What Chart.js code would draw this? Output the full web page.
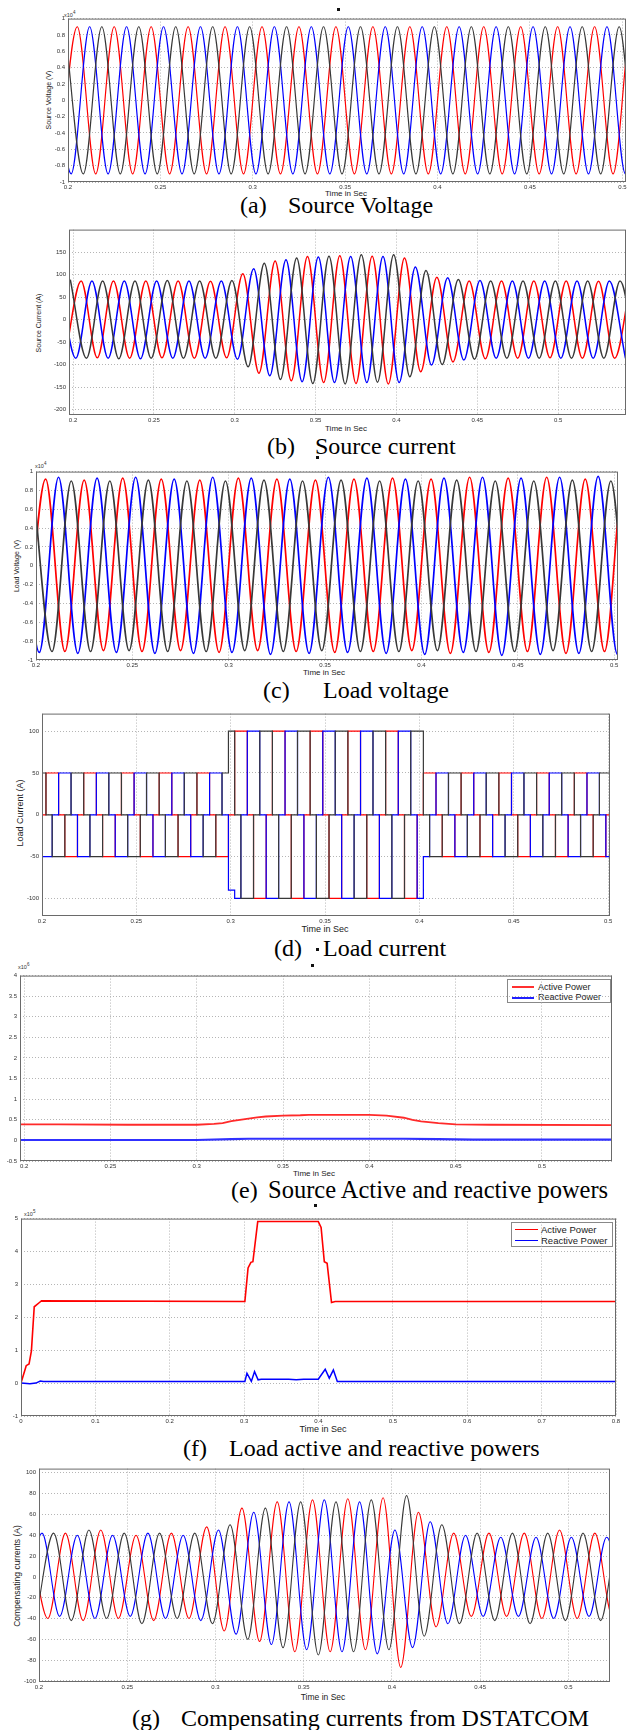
<!DOCTYPE html>
<html>
<head>
<meta charset="utf-8">
<script src="https://cdn.jsdelivr.net/npm/chart.js@4.4.0/dist/chart.umd.min.js"></script>
<style>
  body { margin: 0; background: #fff; width: 629px; height: 1730px; position: relative; overflow: hidden;
         font-family: 'Liberation Sans', Arial, sans-serif; }
  canvas { position: absolute; left: 0; }
  .xt { position: absolute; white-space: nowrap; color: #222; font-size: 8px; transform: translate(-50%, -50%); }
  .yt { position: absolute; white-space: nowrap; color: #222; font-size: 7px; transform: translate(-50%, -50%) rotate(-90deg); }
  .ex { position: absolute; white-space: nowrap; color: #333; font-size: 5.5px; }
  .ex sup { font-size: 4.5px; }
  .cap { position: absolute; white-space: nowrap; font-family: 'Liberation Serif', 'Times New Roman', serif;
         font-size: 24px; line-height: 24px; color: #000; }
  .lg { position: absolute; background: #fff; border: 1px solid #888; }
  .lg div { position: absolute; white-space: nowrap; line-height: 10px; color: #222; }
  .lg span { position: absolute; height: 0; }
  .mk { position: absolute; width: 3px; height: 3px; background: #111; }
</style>
</head>
<body>

<!-- captions -->
<div class="cap" style="left:240px;top:193px">(a)</div><div class="cap" style="left:288px;top:193px">Source Voltage</div>
<div class="cap" style="left:267px;top:434px">(b)</div><div class="cap" style="left:315px;top:434px">Source current</div>
<div class="cap" style="left:263px;top:678px">(c)</div><div class="cap" style="left:323px;top:678px">Load voltage</div>
<div class="cap" style="left:274px;top:936px">(d)</div><div class="cap" style="left:323px;top:936px">Load current</div>
<div class="cap" style="left:231px;top:1178px">(e)</div><div class="cap" style="left:268px;top:1178px;font-size:24.5px">Source Active and reactive powers</div>
<div class="cap" style="left:183px;top:1436px">(f)</div><div class="cap" style="left:229px;top:1436px">Load active and reactive powers</div>
<div class="cap" style="left:132px;top:1706px">(g)</div><div class="cap" style="left:181px;top:1706px">Compensating currents from DSTATCOM</div>

<!-- axis titles -->
<div class="yt" style="left:48px;top:100px">Source Voltage (V)</div>
<div class="xt" style="left:346px;top:193px">Time in Sec</div>
<div class="yt" style="left:38px;top:323px">Source Current (A)</div>
<div class="xt" style="left:346px;top:428px">Time in Sec</div>
<div class="yt" style="left:16px;top:566px">Load Voltage (V)</div>
<div class="xt" style="left:324px;top:672px">Time in Sec</div>
<div class="yt" style="left:20px;top:813px;font-size:9px">Load Current (A)</div>
<div class="xt" style="left:325px;top:929px;font-size:9px">Time in Sec</div>
<div class="xt" style="left:314px;top:1173px">Time in Sec</div>
<div class="xt" style="left:323px;top:1429px;font-size:9px">Time in Sec</div>
<div class="yt" style="left:17px;top:1576px;font-size:8.5px">Compensating currents (A)</div>
<div class="xt" style="left:323px;top:1697px;font-size:8.5px">Time in Sec</div>

<!-- exponents -->
<div class="ex" style="left:64px;top:10px">x10<sup>4</sup></div>
<div class="ex" style="left:35px;top:461px">x10<sup>4</sup></div>
<div class="ex" style="left:18px;top:962px">x10<sup>6</sup></div>
<div class="ex" style="left:24px;top:1209px">x10<sup>5</sup></div>

<!-- legends -->
<div class="lg" style="left:507px;top:979px;width:102px;height:22px">
  <span style="left:4px;top:6px;width:22px;border-top:2px solid #ff3030"></span><div style="left:30px;top:2px;font-size:9px">Active Power</div>
  <span style="left:4px;top:17px;width:22px;border-top:2px solid #2020ff"></span><div style="left:30px;top:12px;font-size:9px">Reactive Power</div>
</div>
<div class="lg" style="left:511px;top:1222px;width:100px;height:23px">
  <span style="left:3px;top:6px;width:23px;border-top:1.5px solid #ff0000"></span><div style="left:29px;top:2px;font-size:9.5px">Active Power</div>
  <span style="left:3px;top:17px;width:23px;border-top:1.5px solid #0000ff"></span><div style="left:29px;top:13px;font-size:9.5px">Reactive Power</div>
</div>

<!-- stray marks from the scanned figure -->
<div class="mk" style="left:337px;top:8px"></div>
<div class="mk" style="left:316px;top:456px"></div>
<div class="mk" style="left:316px;top:948px"></div>
<div class="mk" style="left:311px;top:964px"></div>
<div class="mk" style="left:314px;top:1204px"></div>

<script>
// times of the half-cycle extremes of each phase (50 Hz)
const tRed   = [0.195,0.205,0.215,0.225,0.235,0.245,0.255,0.265,0.275,0.285,0.295,0.305,0.315,0.325,0.335,0.345,0.355,0.365,0.375,0.385,0.395,0.405,0.415,0.425,0.435,0.445,0.455,0.465,0.475,0.485,0.495,0.505,0.515,0.525,0.535,0.545];
const tBlue  = [0.1917,0.2017,0.2117,0.2217,0.2317,0.2417,0.2517,0.2617,0.2717,0.2817,0.2917,0.3017,0.3117,0.3217,0.3317,0.3417,0.3517,0.3617,0.3717,0.3817,0.3917,0.4017,0.4117,0.4217,0.4317,0.4417,0.4517,0.4617,0.4717,0.4817,0.4917,0.5017,0.5117,0.5217,0.5317,0.5417];
const tBlack = [0.1983,0.2083,0.2183,0.2283,0.2383,0.2483,0.2583,0.2683,0.2783,0.2883,0.2983,0.3083,0.3183,0.3283,0.3383,0.3483,0.3583,0.3683,0.3783,0.3883,0.3983,0.4083,0.4183,0.4283,0.4383,0.4483,0.4583,0.4683,0.4783,0.4883,0.4983,0.5083,0.5183,0.5283,0.5383,0.5483];

// (a) source voltage, x10^4 V, value at each extreme
const aRed   = [-0.9,0.9,-0.9,0.9,-0.9,0.9,-0.9,0.9,-0.9,0.9,-0.9,0.9,-0.9,0.9,-0.9,0.9,-0.9,0.9,-0.9,0.9,-0.9,0.9,-0.9,0.9,-0.9,0.9,-0.9,0.9,-0.9,0.9,-0.9,0.9,-0.9];
const aBlue  = [0.9,-0.9,0.9,-0.9,0.9,-0.9,0.9,-0.9,0.9,-0.9,0.9,-0.9,0.9,-0.9,0.9,-0.9,0.9,-0.9,0.9,-0.9,0.9,-0.9,0.9,-0.9,0.9,-0.9,0.9,-0.9,0.9,-0.9,0.9,-0.9,0.9];
const aBlack = [0.9,-0.9,0.9,-0.9,0.9,-0.9,0.9,-0.9,0.9,-0.9,0.9,-0.9,0.9,-0.9,0.9,-0.9,0.9,-0.9,0.9,-0.9,0.9,-0.9,0.9,-0.9,0.9,-0.9,0.9,-0.9,0.9,-0.9,0.9,-0.9,0.9];

// (b) source current, A
const bRed   = [-85,86,-85,86,-86,86,-85,86,-86,85,-85,102,-119,130,-136,140,-140,142,-142,141,-143,137,-116,94,-94,86,-87,86,-86,86,-85,86,-86,85,-86,86];
const bBlue  = [86,-86,86,-86,86,-87,86,-86,86,-86,86,-88,113,-125,133,-138,139,-140,140,-140,140,-140,117,-101,93,-90,87,-86,86,-86,86,-86,86,-86,86,-86];
const bBlack = [89,-86,86,-87,86,-86,87,-86,86,-86,87,-105,125,-133,137,-142,141,-143,144,-139,144,-127,109,-100,89,-88,86,-86,86,-86,86,-86,86,-86,86,-86];

// (c) load voltage, x10^4 V
const cRed   = [-0.9,0.92,-0.91,0.91,-0.9,0.93,-0.91,0.92,-0.9,0.91,-0.92,0.93,-0.9,0.92,-0.91,0.91,-0.92,0.92,-0.91,0.93,-0.9,0.92,-0.93,0.94,-0.92,0.93,-0.91,0.94,-0.93,0.92,-0.91,0.93,-0.92];
const cBlue  = [0.93,-0.92,0.94,-0.93,0.93,-0.92,0.94,-0.93,0.92,-0.93,0.94,-0.92,0.93,-0.94,0.92,-0.93,0.94,-0.92,0.93,-0.93,0.92,-0.94,0.93,-0.92,0.94,-0.95,0.93,-0.94,0.94,-0.93,0.95,-0.94,0.93];
const cBlack = [0.9,-0.91,0.9,-0.91,0.9,-0.9,0.91,-0.91,0.9,-0.91,0.9,-0.9,0.91,-0.91,0.9,-0.9,0.91,-0.91,0.9,-0.91,0.9,-0.9,0.91,-0.91,0.9,-0.91,0.9,-0.9,0.91,-0.91,0.9,-0.9,0.91];

// (d) load current: commutation instants and the level held in each interval, A
const dEdges = [0.1988,0.2021,0.2054,0.2088,0.2121,0.2154,0.2188,0.2221,0.2254,0.2288,0.2321,0.2354,0.2388,0.2421,0.2454,0.2488,0.2521,0.2554,0.2588,0.2621,0.2654,0.2688,0.2721,0.2754,0.2788,0.2821,0.2854,0.2888,0.2921,0.2954,0.2988,0.3021,0.3054,0.3088,0.3121,0.3154,0.3188,0.3221,0.3254,0.3288,0.3321,0.3354,0.3388,0.3421,0.3454,0.3488,0.3521,0.3554,0.3588,0.3621,0.3654,0.3688,0.3721,0.3754,0.3788,0.3821,0.3854,0.3888,0.3921,0.3954,0.3988,0.4021,0.4054,0.4088,0.4121,0.4154,0.4188,0.4221,0.4254,0.4288,0.4321,0.4354,0.4388,0.4421,0.4454,0.4488,0.4521,0.4554,0.4588,0.4621,0.4654,0.4688,0.4721,0.4754,0.4788,0.4821,0.4854,0.4888,0.4921,0.4954,0.4988,0.5021];
const dRed   = [0,50,50,0,-50,-50, 0,50,50,0,-50,-50, 0,50,50,0,-50,-50, 0,50,50,0,-50,-50, 0,50,50,0,-50,-50,
                0,100,100,0,-100,-100, 0,100,100,0,-100,-100, 0,100,100,0,-100,-100, 0,100,100,0,-100,-100, 0,100,100,0,-100,-100,
                0,50,50,0,-50,-50, 0,50,50,0,-50,-50, 0,50,50,0,-50,-50, 0,50,50,0,-50,-50, 0,50,50,0,-50,-50, 0];
const dBlue  = [-50,-50,0,50,50,0, -50,-50,0,50,50,0, -50,-50,0,50,50,0, -50,-50,0,50,50,0, -50,-50,0,50,50,0,
                -90,-100,0,100,100,0, -100,-100,0,100,100,0, -100,-100,0,100,100,0, -100,-100,0,100,100,0, -100,-100,0,100,100,0,
                -100,-50,0,50,50,0, -50,-50,0,50,50,0, -50,-50,0,50,50,0, -50,-50,0,50,50,0, -50,-50,0,50,50,0, -50];
const dBlack = [50,0,-50,-50,0,50, 50,0,-50,-50,0,50, 50,0,-50,-50,0,50, 50,0,-50,-50,0,50, 50,0,-50,-50,0,50,
                100,0,-100,-100,0,100, 100,0,-100,-100,0,100, 100,0,-100,-100,0,100, 100,0,-100,-100,0,100, 100,0,-100,-100,0,100,
                100,0,-50,-50,0,50, 50,0,-50,-50,0,50, 50,0,-50,-50,0,50, 50,0,-50,-50,0,50, 50,0,-50,-50,0,50, 50];

// (e) source powers, x10^6
const eActT   = [0.1976,0.22,0.26,0.30,0.31,0.315,0.32,0.33,0.335,0.34,0.35,0.36,0.365,0.40,0.41,0.42,0.425,0.43,0.44,0.45,0.47,0.5406];
const eActive = [0.39,0.39,0.38,0.38,0.40,0.42,0.47,0.53,0.56,0.58,0.60,0.61,0.62,0.62,0.60,0.55,0.50,0.46,0.42,0.39,0.38,0.37];
const eReactT = [0.1976,0.30,0.32,0.33,0.42,0.44,0.46,0.5406];
const eReactive = [0.01,0.01,0.03,0.04,0.04,0.03,0.02,0.02];

// (f) load powers, x10^5
const fActT   = [0,0.007,0.0108,0.014,0.0178,0.0205,0.0248,0.0275,0.301,0.3053,0.3091,0.3118,0.3183,0.3997,0.4035,0.4078,0.4116,0.4175,0.4224,0.8];
const fActive = [0,0.53,0.58,0.98,2.32,2.37,2.45,2.5,2.48,3.5,3.67,3.69,4.91,4.91,4.73,3.69,3.64,2.45,2.48,2.48];
const fReactT = [0,0.012,0.02,0.026,0.03,0.301,0.3038,0.3097,0.314,0.3188,0.323,0.36,0.37,0.38,0.3997,0.409,0.4145,0.42,0.4253,0.8];
const fReactive = [0,-0.02,0,0.06,0.05,0.05,0.3,0.05,0.35,0.1,0.12,0.12,0.1,0.12,0.12,0.42,0.15,0.4,0.05,0.05];

// (g) compensating currents, A, value at each extreme
const gRed   = [38,-40,42,-42,45,-40,40,-42,42,-40,48,-52,66,-62,72,-72,74,-72,75,-70,76,-87,62,-48,42,-38,42,-38,42,-40,45,-40,42,-38,40];
const gBlue  = [-38,42,-38,40,-40,40,-38,42,-40,40,-42,45,-55,62,-65,72,-70,74,-72,72,-74,45,-68,53,-45,40,-38,38,-38,38,-40,38,-38,38,-38];
const gBlack = [-40,42,-42,45,-40,42,-45,42,-40,42,-45,50,-60,66,-68,72,-75,72,-72,74,-70,78,-57,50,-45,42,-42,42,-45,42,-42,42,-42,40,-40];

// tick labels
const xTicksA = [0.2,0.25,0.3,0.35,0.4,0.45,0.5];
const xTicksF = [0,0.1,0.2,0.3,0.4,0.5,0.6,0.7,0.8];
const yTicksV = [-1,-0.8,-0.6,-0.4,-0.2,0,0.2,0.4,0.6,0.8,1];
const yTicksB = [-200,-150,-100,-50,0,50,100,150];
const yTicksD = [-100,-50,0,50,100];
const yTicksE = [-0.5,0,0.5,1,1.5,2,2.5,3,3.5,4];
const yTicksF = [-1,0,1,2,3,4,5];
const yTicksG = [-100,-80,-60,-40,-20,0,20,40,60,80,100];

const RED = '#ff0000', BLUE = '#0000ff', BLK = '#383838';

function pts(ts, vs) { return vs.map((v, i) => ({x: ts[i], y: v})); }
function steps(edges, lv) { return lv.flatMap((v, k) => [{x: edges[k], y: v}, {x: edges[k + 1], y: v}]); }
function wave(data, color, width) {
  return {data, borderColor: color, borderWidth: width, pointRadius: 0, fill: false, cubicInterpolationMode: 'monotone'};
}
function flat(data, color, width) {
  return {data, borderColor: color, borderWidth: width, pointRadius: 0, fill: false, tension: 0};
}

const frame = {
  id: 'frame',
  afterDraw(chart) {
    const a = chart.chartArea, ctx = chart.ctx;
    ctx.save();
    ctx.strokeStyle = '#6a6a6a';
    ctx.lineWidth = 1;
    ctx.strokeRect(a.left + 0.5, a.top + 0.5, a.right - a.left - 1, a.bottom - a.top - 1);
    ctx.restore();
  }
};

function panel(box, xr, yr, xt, yt, datasets, fs) {
  const [L, R, T, B] = box;
  const padTop = 6, xh = 14;
  const c = document.createElement('canvas');
  c.width = 629;
  c.height = B - T + padTop + xh;
  c.style.top = (T - padTop) + 'px';
  document.body.appendChild(c);
  const tickFont = {size: fs || 6, family: "'Liberation Sans', Arial, sans-serif"};
  new Chart(c, {
    type: 'line',
    data: {datasets},
    options: {
      responsive: false, animation: false, events: [],
      layout: {padding: {left: 0, right: 629 - R, top: padTop, bottom: 0}},
      plugins: {legend: {display: false}, tooltip: {enabled: false}},
      scales: {
        x: {
          type: 'linear', min: xr[0], max: xr[1],
          afterFit: s => { s.height = xh; },
          afterBuildTicks: s => { s.ticks = xt.map(v => ({value: v})); },
          grid: {color: '#b5b5b5', drawTicks: false},
          border: {display: false, dash: [1, 2]},
          ticks: {autoSkip: false, maxRotation: 0, padding: 2, font: tickFont, color: '#333', callback: v => String(v)}
        },
        y: {
          type: 'linear', min: yr[0], max: yr[1],
          afterFit: s => { s.width = L; },
          afterBuildTicks: s => { s.ticks = yt.map(v => ({value: v})); },
          grid: {color: '#b5b5b5', drawTicks: false},
          border: {display: false, dash: [1, 2]},
          ticks: {autoSkip: false, padding: 3, font: tickFont, color: '#333', callback: v => String(v)}
        }
      }
    },
    plugins: [frame]
  });
}

// (a)
panel([68, 626, 18, 182], [0.2, 0.502], [-1, 1], xTicksA, yTicksV, [
  wave(pts(tBlack, aBlack), BLK, 1.2), wave(pts(tBlue, aBlue), BLUE, 1.2), wave(pts(tRed, aRed), RED, 1.2)
]);
// (b)
panel([69, 626, 229, 415], [0.1975, 0.542], [-212, 200], xTicksA, yTicksB, [
  wave(pts(tBlack, bBlack), BLK, 1.5), wave(pts(tBlue, bBlue), BLUE, 1.5), wave(pts(tRed, bRed), RED, 1.5)
]);
// (c)
panel([36, 618, 471, 660], [0.2, 0.502], [-1, 1], xTicksA, yTicksV, [
  wave(pts(tBlack, cBlack), BLK, 1.7), wave(pts(tBlue, cBlue), BLUE, 1.7), wave(pts(tRed, cRed), RED, 1.7)
]);
// (d)
panel([42, 610, 713, 916], [0.2, 0.501], [-121, 121], xTicksA, yTicksD, [
  flat(steps(dEdges, dBlack), BLK, 1.2), flat(steps(dEdges, dBlue), BLUE, 1.2), flat(steps(dEdges, dRed), RED, 1.2)
]);
// (e)
panel([20, 612, 975, 1161], [0.1976, 0.5406], [-0.5, 4], xTicksA, yTicksE, [
  flat(pts(eReactT, eReactive), '#3030ff', 2.2), flat(pts(eActT, eActive), '#ff2a2a', 1.8)
]);
// (f)
panel([21, 616, 1218, 1416], [0, 0.8], [-1, 5], xTicksF, yTicksF, [
  flat(pts(fReactT, fReactive), BLUE, 1.5), flat(pts(fActT, fActive), RED, 1.6)
]);
// (g)
panel([39, 610, 1468, 1682], [0.2, 0.5236], [-101, 104], xTicksA, yTicksG, [
  wave(pts(tBlack, gBlack), BLK, 1.1), wave(pts(tBlue, gBlue), BLUE, 1.1), wave(pts(tRed, gRed), RED, 1.1)
]);
</script>
</body>
</html>
